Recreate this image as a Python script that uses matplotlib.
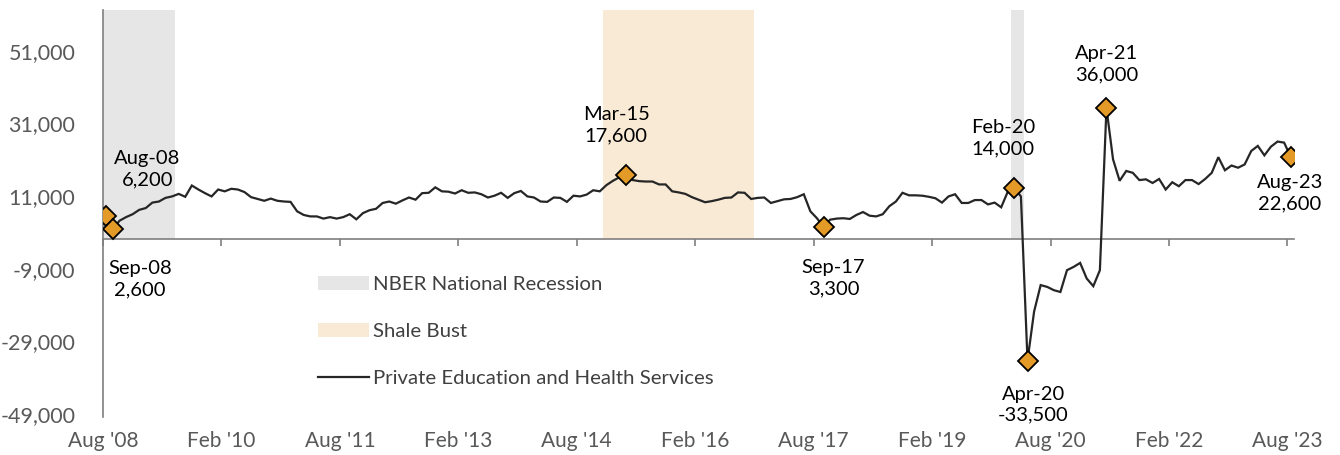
import matplotlib
matplotlib.use("Agg")
import matplotlib.pyplot as plt
from matplotlib.patches import Patch
from matplotlib.lines import Line2D
from matplotlib.ticker import FuncFormatter
from matplotlib.transforms import ScaledTranslation
import numpy as np
import pandas as pd

# ---------------- data ----------------
months = pd.date_range("2008-08-01", "2023-08-01", freq="MS")

education_health = [
    6200, 2600, 5000, 6000, 6800, 8000, 8500, 10000, 10300, 11300,
    11700, 12400, 11600, 14700, 13600, 12600, 11700, 13600, 13100, 13800,
    13600, 12900, 11500, 11000, 10500, 11100, 10500, 10300, 10200, 7600,
    6600, 6200, 6200, 5600, 6000, 5600, 6000, 6800, 5400, 7100,
    7900, 8300, 9900, 10300, 9700, 10600, 11400, 10800, 12600, 12700,
    14200, 13100, 13000, 12500, 13400, 12700, 12800, 12300, 11400, 11900,
    12700, 11300, 12600, 13200, 11700, 11400, 10300, 10200, 11400, 11300,
    10200, 11900, 11700, 12200, 13400, 13100, 14800, 16000, 17000, 17600,
    16200, 15900, 15800, 15800, 15000, 15000, 13100, 12800, 12400, 11500,
    10800, 10100, 10400, 10800, 11300, 11400, 12800, 12700, 11000, 11300,
    11400, 9900, 10400, 10900, 11000, 11500, 12300, 7600, 5700, 3300,
    5300, 5600, 5700, 5500, 6600, 7400, 6400, 6200, 6800, 9000,
    10300, 12700, 12000, 12000, 11900, 11600, 11200, 10000, 11700, 12300,
    9900, 9900, 10700, 10700, 9500, 10000, 8700, 13000, 14000, 11700,
    -33500, -20000, -12700, -13200, -14100, -14600, -8600, -7700, -6600, -10900,
    -13000, -8600, 36000, 21900, 16000, 18700, 18200, 16200, 16400, 15400,
    16500, 13600, 15600, 14500, 16200, 16200, 15100, 16500, 18200, 22500,
    18900, 20200, 19600, 20500, 24200, 25600, 23000, 25400, 26800, 26500,
    22600,
]

annotated_months = ["Aug-08", "Sep-08", "Mar-15", "Sep-17", "Feb-20", "Apr-20", "Apr-21", "Aug-23"]

recession_spans = [("2008-08", "2009-06"), ("2020-02", "2020-03")]
shale_spans = [("2014-12", "2016-10")]

tick_labels = ["Aug '08", "Feb '10", "Aug '11", "Feb '13", "Aug '14", "Feb '16",
               "Aug '17", "Feb '19", "Aug '20", "Feb '22", "Aug '23"]
y_ticks = [-49000, -29000, -9000, 11000, 31000, 51000]

legend_labels = ["NBER National Recession", "Shale Bust", "Private Education and Health Services"]

# ---------------- style ----------------
FONT = "Lato"
plt.rcParams["font.family"] = [FONT, "DejaVu Sans"]
GRAY_SHADE = "#E6E6E6"
SHALE_SHADE = "#F9EAD5"
LINE_COLOR = "#262626"
MARKER_COLOR = "#E39A27"
AXIS_COLOR = "#7F7F7F"
TEXT_GRAY = "#595959"

# label offsets in pixels (dx, dy)
label_offsets = [(41, 47), (27, -50), (-10, 50), (10, -51), (-11, 50), (6, -44), (0, 44), (-1, -36)]

W, H = 1340, 455
fig = plt.figure(figsize=(W / 100, H / 100), dpi=100)
ax = fig.add_axes([103 / W, 1 - 417 / H, (1294 - 103) / W, (417 - 10) / H])

n = len(education_health)
x = np.arange(n) + 0.5
YMIN, YMAX = -49000, 63000
ax.set_xlim(0, n)
ax.set_ylim(YMIN, YMAX)

month_str = [m.strftime("%Y-%m") for m in months]


def span_fill(spans, color):
    for a, b in spans:
        i0 = month_str.index(a)
        i1 = month_str.index(b) + 1
        ax.fill_between([i0, i1], [0, 0], [YMAX, YMAX], color=color, lw=0, zorder=0)


span_fill(recession_spans, GRAY_SHADE)
span_fill(shale_spans, SHALE_SHADE)

ax.plot(x, education_health, color=LINE_COLOR, lw=1.6, zorder=3, solid_joinstyle="miter")

labels_mmyy = [m.strftime("%b-%y") for m in months]
for name, (dx, dy) in zip(annotated_months, label_offsets):
    i = labels_mmyy.index(name)
    v = education_health[i]
    ax.plot(x[i], v, marker="D", ms=10.5, mfc=MARKER_COLOR, mec="black", mew=1.3, zorder=5, ls="none")
    ax.annotate(f"{name}\n{v:,.0f}", (x[i], v), xytext=(dx, dy), textcoords="offset pixels",
                ha="center", va="center", fontsize=14.5, color="black", linespacing=1.3, zorder=6)

# spines
for s in ["top", "right"]:
    ax.spines[s].set_visible(False)
ax.spines["left"].set_color(AXIS_COLOR)
ax.spines["left"].set_linewidth(1.2)
ax.spines["bottom"].set_position(("data", 0))
ax.spines["bottom"].set_color(AXIS_COLOR)
ax.spines["bottom"].set_linewidth(1.2)

tick_pos = np.arange(0, n, 18)
ax.set_xticks(tick_pos)
ax.tick_params(axis="x", direction="out", length=5, width=1.2, color=AXIS_COLOR, labelbottom=False)

sec = ax.secondary_xaxis("bottom")
sec.set_xticks(tick_pos, tick_labels)
sec.tick_params(length=0, pad=10, labelsize=15, labelcolor=TEXT_GRAY)
sec.spines["bottom"].set_visible(False)

ax.set_yticks(y_ticks)
ax.yaxis.set_major_formatter(FuncFormatter(lambda v, p: f"{v:,.0f}"))
ax.tick_params(axis="y", length=0, pad=20, labelsize=15.5, labelcolor=TEXT_GRAY)
shift = ScaledTranslation(0, 3 / 100, fig.dpi_scale_trans)
for lab in ax.get_yticklabels():
    lab.set_transform(lab.get_transform() + shift)

handles = [
    Patch(facecolor=GRAY_SHADE, edgecolor="none"),
    Patch(facecolor=SHALE_SHADE, edgecolor="none"),
    Line2D([0], [0], color=LINE_COLOR, lw=1.6),
]
fig.legend(handles, legend_labels, loc="upper left", bbox_to_anchor=(318 / W, 1 - 276 / H),
           frameon=False, fontsize=14.7, handlelength=2.5, handletextpad=0.2, labelspacing=1.45,
           borderpad=0, borderaxespad=0, labelcolor="#404040")

fig.savefig("out.png", dpi=100)
